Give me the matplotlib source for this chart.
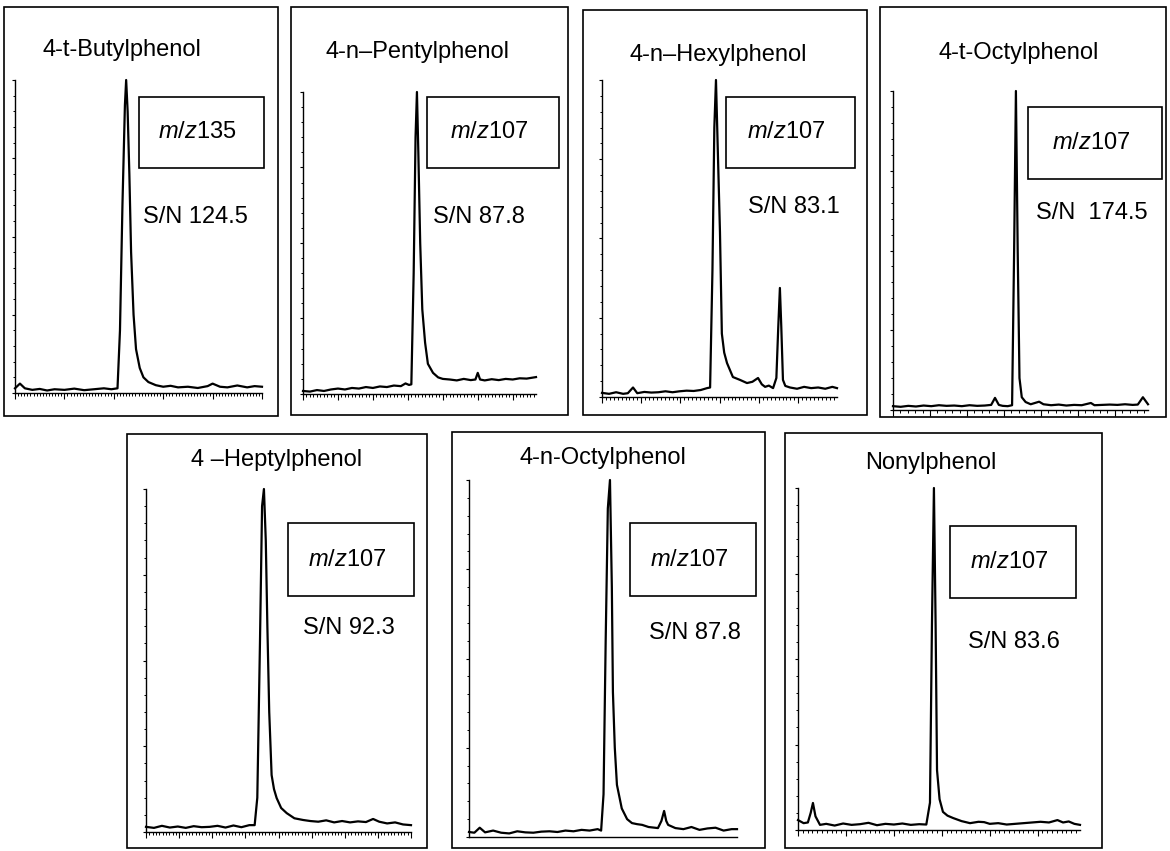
import matplotlib
matplotlib.use("Agg")
import matplotlib.pyplot as plt
from matplotlib.patches import Rectangle
from matplotlib.ticker import MultipleLocator, NullLocator

plt.rcParams["font.family"] = ["Liberation Sans", "DejaVu Sans"]
plt.rcParams["mathtext.fontset"] = "custom"
plt.rcParams["mathtext.rm"] = "Liberation Sans"
plt.rcParams["mathtext.it"] = "Liberation Sans:italic"

# ---- data: compound names, ions, S/N, chromatogram traces (time %, intensity %) ----
names = ["4-t-Butylphenol", "4-n\u2013Pentylphenol", "4-n\u2013Hexylphenol", "4-t-Octylphenol",
         "4 \u2013Heptylphenol", "4-n-Octylphenol", "Nonylphenol"]
ions = ["135", "107", "107", "107", "107", "107", "107"]
sn_labels = ["S/N 124.5", "S/N 87.8", "S/N 83.1", "S/N  174.5", "S/N 92.3", "S/N 87.8", "S/N 83.6"]

t_butyl = [0, 2, 4, 7, 10, 13, 16, 20, 24, 28, 32, 36, 39, 41.5, 42.5, 43.5, 44.5, 45, 45.6, 46.3, 47, 48, 49,
           50.5, 52, 54, 57, 60, 63, 66, 70, 74, 78, 80, 83, 86, 90, 94, 97, 100]
i_butyl = [1.5, 3, 1.5, 1, 1.3, 0.8, 1.2, 1, 1.4, 0.9, 1.2, 1.5, 1.2, 1.5, 20, 60, 92, 100, 90, 70, 45, 25, 14,
           8, 5, 3.5, 2.5, 2, 2.3, 1.8, 2, 1.6, 2.2, 3, 2, 1.8, 2.4, 1.8, 2.2, 2]

t_pentyl = [0, 3, 6, 9, 12, 15, 18, 21, 24, 27, 30, 33, 36, 39, 42, 44, 45.5, 46.5, 47.5, 48.3, 48.9, 49.5, 50.3,
            51.2, 52.4, 53.6, 55.8, 58, 60, 63, 66, 69, 72, 74, 75, 76, 78, 81, 84, 87, 90, 93, 96, 100]
i_pentyl = [1, 0.8, 1.3, 1, 1.5, 1.8, 1.5, 2, 1.8, 2.3, 2, 2.5, 2.3, 2.8, 2.6, 3.5, 3, 3.2, 40, 85, 100, 80, 50,
            28, 17, 10, 7, 5.5, 5, 4.8, 4.5, 5, 4.6, 4.8, 7, 4.8, 4.5, 4.9, 4.6, 5, 4.8, 5.2, 5.1, 5.6]

t_hexyl = [0, 3, 6, 9, 11, 13.2, 15, 18, 21, 24, 27, 30, 33, 36, 39, 42, 44.7, 46, 47, 47.8, 48.5, 49.2, 50.2, 51,
           52, 53.2, 55.7, 58.7, 61.7, 64, 66.4, 68, 69.4, 71, 72.8, 74.2, 75, 75.7, 76.3, 77, 78, 80, 83, 86, 89,
           92, 95, 98, 100]
i_hexyl = [1.3, 1, 1.5, 1, 1.2, 3, 1.2, 1.6, 1.4, 1.5, 1.8, 1.5, 1.8, 2, 1.9, 2.2, 2.8, 3, 40, 85, 100, 80, 52, 20,
           14, 10.7, 6.3, 5.4, 4.4, 4.8, 6, 4, 3.2, 3.6, 2.8, 6, 22, 34.4, 22, 5.4, 3.5, 3, 2.6, 3.2, 2.8,
           3, 2.6, 3.2, 2.8]

t_toctyl = [0, 3, 6, 9, 12, 15, 18, 21, 24, 27, 30, 33, 36, 38.5, 40, 41.5, 43, 45, 46.7, 47.5, 48.2, 48.9, 49.6,
            50.5, 52, 54, 57.3, 59, 62, 65, 68, 71, 74, 77.6, 79, 82, 85, 88, 91, 94, 96, 98, 100]
i_toctyl = [1.2, 1, 1.3, 1.1, 1.4, 1.2, 1.5, 1.3, 1.4, 1.2, 1.5, 1.3, 1.4, 1.6, 3.8, 1.6, 1.3, 1.2, 1.5, 50, 100,
            50, 10, 4, 2.5, 1.8, 2.6, 1.8, 1.5, 1.7, 1.4, 1.6, 1.5, 2.2, 1.5, 1.6, 1.7, 1.6, 1.8, 1.6, 1.7, 4, 1.8]

t_heptyl = [0, 3, 6, 9, 12, 15, 18, 21, 24, 27, 30, 33, 36, 39, 41, 42, 43, 43.8, 44.5, 45.2, 45.8, 46.5, 47.4,
            48.3, 49.3, 51, 53.1, 56, 59.3, 62, 65, 68, 71, 74, 77, 80, 83, 85.7, 88, 91, 94, 97, 100]
i_heptyl = [1.5, 1.2, 1.8, 1.3, 1.6, 1.2, 1.7, 1.4, 1.5, 1.8, 1.3, 1.9, 1.4, 2, 2, 10, 55, 95, 100, 85, 60, 35,
            16.6, 12.5, 9.9, 7, 5.5, 4, 3.5, 3.2, 3, 3.4, 2.8, 3.2, 2.8, 3.1, 2.9, 3.8, 3, 2.5, 2.8, 2.2, 2]

t_noctyl = [0, 2, 4, 6, 9, 12, 15, 18, 21, 24, 27, 30, 33, 36, 39, 42, 45, 48, 49.3, 50.2, 51, 51.8, 52.6, 53.3,
            53.7, 54.4, 55.2, 57, 59, 60.8, 62.7, 64.6, 67, 70.5, 71.8, 72.8, 73.6, 74.3, 77, 80, 83, 86, 89, 92,
            95, 98, 100]
i_noctyl = [1.4, 1.2, 2.6, 1.3, 1.8, 1.2, 1, 1.6, 1.3, 1.2, 1.5, 1.6, 1.4, 1.8, 1.6, 2, 1.8, 2.2, 1.8, 12, 55, 92,
            100, 70, 40.6, 25, 14.6, 8, 5, 3.9, 3.6, 3.4, 2.8, 2.5, 4.5, 7.3, 4.5, 3.4, 2.5, 2.2, 2.8, 2, 2.4,
            2.6, 1.8, 2.2, 2.2]

t_nonyl = [0, 2, 3.5, 4.5, 5.3, 6.2, 7.8, 10, 13, 16, 19, 22, 25, 28, 31, 34, 37, 40, 43, 45.5, 46.8, 47.5, 48.2,
           48.8, 49.3, 50.2, 51.4, 53, 55, 58, 61, 64, 66, 68, 71, 74, 77, 80, 83, 86, 89, 92, 94, 96, 98, 100]
i_nonyl = [2.9, 2, 2.2, 5, 7.9, 4, 1.5, 1.8, 1.3, 1.9, 1.5, 1.7, 2.1, 1.4, 1.8, 1.6, 1.9, 1.5, 1.7, 1.6, 8, 60,
           100, 60, 17.5, 9, 5.3, 4.2, 3.5, 2.6, 2, 2.4, 2.3, 1.8, 2, 1.6, 1.8, 2, 2.2, 2.4, 2.2, 2.9, 2.2, 2.5,
           1.8, 1.5]

times = [t_butyl, t_pentyl, t_hexyl, t_toctyl, t_heptyl, t_noctyl, t_nonyl]
intens = [i_butyl, i_pentyl, i_hexyl, i_toctyl, i_heptyl, i_noctyl, i_nonyl]

# ---- layout in pixels (x0, x1, y0, y1), y from top ----
W, H = 1170, 851
frames = [(4, 278, 7, 416), (291, 568, 7, 415), (583, 867, 10, 415), (880, 1166, 7, 417),
          (127, 427, 434, 848), (452, 765, 432, 848), (785, 1102, 433, 848)]
plots = [(15, 262, 80, 393), (303, 536, 92, 394), (602, 837, 80, 397), (893, 1148, 91, 410),
         (146, 411, 489, 832), (469, 737, 480, 837), (798, 1080, 488, 830)]
ionbox = [(139, 264, 97, 168), (427, 559, 97, 168), (726, 855, 97, 168), (1028, 1162, 107, 179),
          (288, 414, 523, 596), (630, 756, 523, 596), (950, 1076, 526, 598)]
title_xy = [(122, 50), (418, 52), (718, 55), (1019, 53), (277, 460), (603, 458), (931, 463)]
sn_xy = [(143, 217), (433, 217), (748, 207), (1036, 213), (303, 628), (649, 633), (968, 642)]
xticks = [(20, 1.25), (15, 1.5), (16.7, 1.67), (14.5, 2.9), (12.5, 1.25), None, (17, 1.7)]

fig = plt.figure(figsize=(W / 100, H / 100), dpi=100)
bg = fig.add_axes([0, 0, 1, 1])
bg.set_xlim(0, W)
bg.set_ylim(H, 0)
bg.axis("off")

for k in range(7):
    x0, x1, y0, y1 = frames[k]
    bg.add_patch(Rectangle((x0, y0), x1 - x0, y1 - y0, fill=False, lw=1.2, ec="black"))
    bx0, bx1, by0, by1 = ionbox[k]
    bg.add_patch(Rectangle((bx0, by0), bx1 - bx0, by1 - by0, fill=False, lw=1.2, ec="black"))
    bg.text((bx0 + bx1) / 2 - 4, (by0 + by1) / 2, "$m/z$" + ions[k], ha="center", va="center", fontsize=17)
    bg.text(*title_xy[k], names[k], ha="center", va="center", fontsize=17)
    bg.text(*sn_xy[k], sn_labels[k], ha="left", va="center", fontsize=17)

    px0, px1, py0, py1 = plots[k]
    ax = fig.add_axes([px0 / W, 1 - py1 / H, (px1 - px0) / W, (py1 - py0) / H])
    ax.set_facecolor("none")
    ax.plot(times[k], intens[k], color="black", lw=1.6, clip_on=False)
    ax.set_xlim(0, 100)
    ax.set_ylim(0, 100)
    for s in ["top", "right"]:
        ax.spines[s].set_visible(False)
    ax.spines["left"].set_linewidth(1.0)
    ax.spines["bottom"].set_linewidth(1.0)
    if xticks[k] is None:
        ax.xaxis.set_major_locator(NullLocator())
        ax.xaxis.set_minor_locator(NullLocator())
    else:
        ax.xaxis.set_major_locator(MultipleLocator(xticks[k][0]))
        ax.xaxis.set_minor_locator(MultipleLocator(xticks[k][1]))
    ax.yaxis.set_major_locator(MultipleLocator(25))
    ax.yaxis.set_minor_locator(MultipleLocator(5))
    ax.tick_params(axis="x", which="major", direction="out", length=4, width=0.8, labelbottom=False)
    ax.tick_params(axis="x", which="minor", direction="out", length=2.2, width=0.7)
    ax.tick_params(axis="y", which="major", direction="out", length=2.5, width=0.8, labelleft=False)
    ax.tick_params(axis="y", which="minor", direction="out", length=1.5, width=0.7)

fig.savefig("out.png", dpi=100)
